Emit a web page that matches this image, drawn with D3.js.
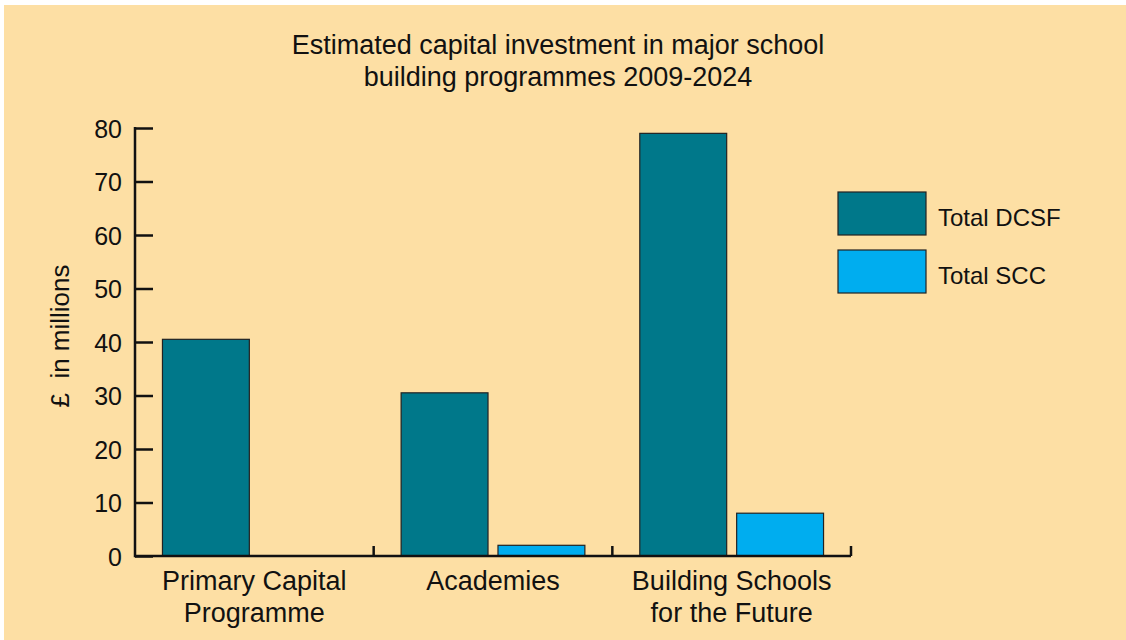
<!DOCTYPE html>
<html>
<head>
<meta charset="utf-8">
<script src="https://cdn.jsdelivr.net/npm/d3@7"></script>
<style>
    body { margin: 0; background: #ffffff; }
    text { font-family: "Liberation Sans", Arial, sans-serif; fill: #111; }
</style>
</head>
<body>
<div id="chart"></div>
<script>
var categories = [["Primary Capital", "Programme"], ["Academies"], ["Building Schools", "for the Future"]];
var categoryKeys = ["Primary Capital Programme", "Academies", "Building Schools for the Future"];
var seriesNames = ["Total DCSF", "Total SCC"];
var dcsfValues = [40.5, 30.5, 79];
var sccValues = [0, 2, 8];
var yTicks = [0, 10, 20, 30, 40, 50, 60, 70, 80];
var titleLines = ["Estimated capital investment in major school", "building programmes 2009-2024"];
var colours = ["#00788a", "#00adef"];

var W = 1126, H = 640;
var margin = { top: 128, left: 135, right: 275, bottom: 84 };
var width = W - margin.left - margin.right,
    height = H - margin.top - margin.bottom;

var svg = d3.select("#chart").append("svg")
    .attr("width", W)
    .attr("height", H);

// peach panel
svg.append("rect")
    .attr("x", 4).attr("y", 5)
    .attr("width", W - 4).attr("height", H - 5)
    .attr("fill", "#fddfa4");

svg.selectAll(".title")
    .data(titleLines)
    .enter().append("text")
    .attr("class", "title")
    .attr("x", 558)
    .attr("y", function(d, i) { return 54 + i * 32; })
    .attr("text-anchor", "middle")
    .style("font-size", "27px")
    .text(function(d) { return d; });

var g = svg.append("g")
    .attr("transform", "translate(" + margin.left + "," + margin.top + ")");

var x0 = d3.scaleBand().domain(categoryKeys).range([0, width]).padding(0);
var x1 = d3.scaleBand().domain(seriesNames).range([0, x0.bandwidth()])
    .paddingInner(0.103).paddingOuter(0.2835);
var y = d3.scaleLinear().domain([0, 80]).range([height, 0]);

var rows = categoryKeys.map(function(c, i) {
    return { cat: c, values: [dcsfValues[i], sccValues[i]] };
});

var groups = g.selectAll(".grp")
    .data(rows)
    .enter().append("g")
    .attr("class", "grp")
    .attr("transform", function(d) { return "translate(" + x0(d.cat) + ",0)"; });

groups.selectAll("rect")
    .data(function(d) {
        return d.values.map(function(v, j) { return { s: seriesNames[j], v: v, j: j }; })
            .filter(function(e) { return e.v > 0; });
    })
    .enter().append("rect")
    .attr("x", function(d) { return x1(d.s); })
    .attr("y", function(d) { return y(d.v); })
    .attr("width", x1.bandwidth())
    .attr("height", function(d) { return height - y(d.v); })
    .attr("fill", function(d) { return colours[d.j]; })
    .attr("stroke", "#222")
    .attr("stroke-width", 1.2);

// y axis, ticks pointing inward
var yAxis = d3.axisLeft(y).tickValues(yTicks).tickSize(-18).tickPadding(13);
var ya = g.append("g").call(yAxis);
ya.select(".domain").remove();
ya.selectAll(".tick line").attr("stroke", "#111").attr("stroke-width", 2.5);
ya.selectAll(".tick text").style("font-size", "25px").attr("font-family", null).attr("dy", "0.36em");
g.append("line")
    .attr("x1", 0).attr("x2", 0)
    .attr("y1", y(80) - 1).attr("y2", height + 1.25)
    .attr("stroke", "#111").attr("stroke-width", 2.5);

// x axis baseline and category separators
g.append("line")
    .attr("x1", 0).attr("x2", width)
    .attr("y1", height).attr("y2", height)
    .attr("stroke", "#111").attr("stroke-width", 2.5);

g.selectAll(".sep")
    .data(categoryKeys)
    .enter().append("line")
    .attr("class", "sep")
    .attr("x1", function(d) { return x0(d) + x0.bandwidth(); })
    .attr("x2", function(d) { return x0(d) + x0.bandwidth(); })
    .attr("y1", height - 10).attr("y2", height)
    .attr("stroke", "#111").attr("stroke-width", 2.5);

var labels = g.selectAll(".catlabel")
    .data(categories)
    .enter().append("text")
    .attr("class", "catlabel")
    .attr("text-anchor", "middle")
    .style("font-size", "27px")
    .attr("transform", function(d, i) {
        return "translate(" + (x0(categoryKeys[i]) + x0.bandwidth() / 2) + "," + (height + 34) + ")";
    });
labels.selectAll("tspan")
    .data(function(d) { return d; })
    .enter().append("tspan")
    .attr("x", 0)
    .attr("y", function(d, i) { return i * 32; })
    .text(function(d) { return d; });

// y label
svg.append("text")
    .attr("transform", "translate(69,336) rotate(-90)")
    .attr("text-anchor", "middle")
    .style("font-size", "26px")
    .text("£\u00a0 in millions");

// legend
var legend = svg.selectAll(".legend")
    .data(seriesNames)
    .enter().append("g")
    .attr("class", "legend")
    .attr("transform", function(d, i) { return "translate(838," + (192 + i * 58) + ")"; });

legend.append("rect")
    .attr("width", 88).attr("height", 43)
    .attr("fill", function(d, i) { return colours[i]; })
    .attr("stroke", "#222")
    .attr("stroke-width", 1.2);

legend.append("text")
    .attr("x", 100)
    .attr("y", 34)
    .style("font-size", "24px")
    .text(function(d) { return d; });
</script>
</body>
</html>
